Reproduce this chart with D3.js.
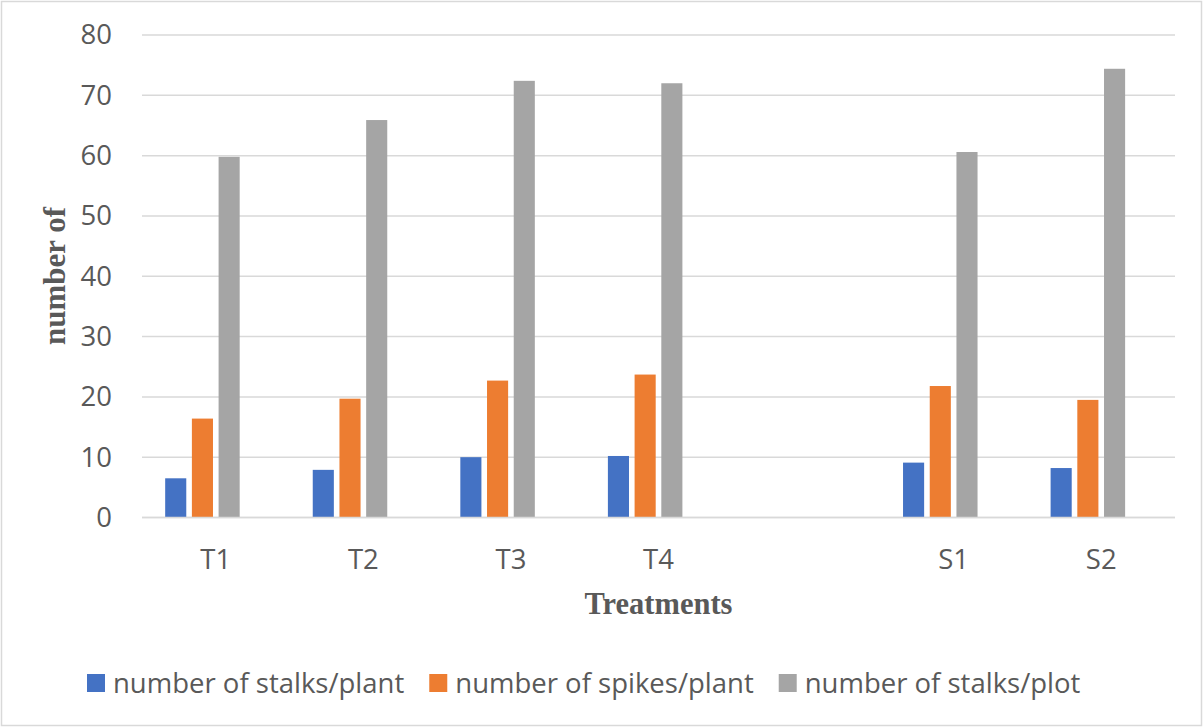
<!DOCTYPE html>
<html>
<head>
<meta charset="utf-8">
<script src="https://cdn.jsdelivr.net/npm/d3@7"></script>
<style>
  html, body { margin: 0; padding: 0; background: #fff; }
  svg { display: block; }
</style>
</head>
<body>
<svg id="chart" width="1203" height="727"></svg>
<script>
// ---- data ----
const categories = ["T1", "T2", "T3", "T4", "", "S1", "S2"];
const stalksPerPlant = [6.5, 7.9, 10.0, 10.2, null, 9.1, 8.2];
const spikesPerPlant = [16.4, 19.7, 22.7, 23.7, null, 21.8, 19.5];
const stalksPerPlot  = [59.8, 65.9, 72.4, 72.0, null, 60.6, 74.4];
const seriesNames = ["number of stalks/plant", "number of spikes/plant", "number of stalks/plot"];
const seriesColors = ["#4472C4", "#ED7D31", "#A5A5A5"];
const yTicks = [0, 10, 20, 30, 40, 50, 60, 70, 80];
const xTitle = "Treatments";
const yTitle = "number of";

const seriesValues = [stalksPerPlant, spikesPerPlant, stalksPerPlot];
// 4 slots per group (4th slot is empty in the source chart)
const slots = ["s0", "s1", "s2", "s3"];

// ---- layout ----
const W = 1203, H = 727;
const plot = { left: 142, right: 1175, top: 35, bottom: 517.5 };
const textColor = "#595959";
const gridColor = "#d9d9d9";
const sans = "'Open Sans', 'Noto Sans', sans-serif";
const serif = "'Liberation Serif', 'DejaVu Serif', serif";

const svg = d3.select("#chart");

// outer border
svg.append("rect")
  .attr("x", 1.5).attr("y", 1.5)
  .attr("width", W - 3).attr("height", H - 3)
  .attr("fill", "#fff").attr("stroke", gridColor).attr("stroke-width", 1.5);

const x0 = d3.scaleBand().domain(categories).range([plot.left, plot.right]).padding(0);
const x1 = d3.scaleBand().domain(slots).range([0, x0.bandwidth()])
  .paddingInner(0.21).paddingOuter(0.868);
const y = d3.scaleLinear().domain([0, 80]).range([plot.bottom, plot.top]);

// gridlines
svg.append("g").selectAll("line").data(yTicks).join("line")
  .attr("x1", plot.left).attr("x2", plot.right)
  .attr("y1", d => y(d)).attr("y2", d => y(d))
  .attr("stroke", gridColor).attr("stroke-width", 1.5);

// y axis labels
const yAxis = svg.append("g")
  .attr("transform", `translate(${plot.left},0)`)
  .call(d3.axisLeft(y).tickValues(yTicks).tickSize(0).tickPadding(30));
yAxis.select(".domain").remove();
yAxis.selectAll("text")
  .attr("fill", textColor).style("font-family", sans).style("font-size", "27.5px");

// bars
const barData = [];
categories.forEach((c, i) => {
  seriesValues.forEach((vals, s) => {
    if (vals[i] != null) barData.push({ cat: c, slot: slots[s], s, v: vals[i] });
  });
});
svg.append("g").selectAll("rect").data(barData).join("rect")
  .attr("x", d => x0(d.cat) + x1(d.slot))
  .attr("width", x1.bandwidth())
  .attr("y", d => y(d.v))
  .attr("height", d => y(0) - y(d.v))
  .attr("fill", d => seriesColors[d.s]);

// baseline
svg.append("line")
  .attr("x1", plot.left).attr("x2", plot.right)
  .attr("y1", y(0)).attr("y2", y(0))
  .attr("stroke", gridColor).attr("stroke-width", 1.5);

// x axis labels
const xAxis = svg.append("g")
  .attr("transform", `translate(0,${plot.bottom})`)
  .call(d3.axisBottom(x0).tickSize(0));
xAxis.select(".domain").remove();
xAxis.selectAll("text")
  .attr("y", 41.5).attr("dy", "0.35em")
  .attr("fill", textColor).style("font-family", sans).style("font-size", "27.5px");

// axis titles
svg.append("text")
  .attr("x", (plot.left + plot.right) / 2).attr("y", 614)
  .attr("text-anchor", "middle")
  .attr("fill", textColor).style("font-family", serif)
  .style("font-size", "30.5px").style("font-weight", "bold")
  .text(xTitle);

svg.append("text")
  .attr("transform", `translate(65,276) rotate(-90)`)
  .attr("text-anchor", "middle")
  .attr("fill", textColor).style("font-family", serif)
  .style("font-size", "31px").style("font-weight", "bold")
  .text(yTitle);

// legend
const legend = svg.append("g");
let lx = 87;
const ly = 683;
seriesNames.forEach((name, i) => {
  legend.append("rect")
    .attr("x", lx).attr("y", ly - 9)
    .attr("width", 18).attr("height", 18)
    .attr("fill", seriesColors[i]);
  const t = legend.append("text")
    .attr("x", lx + 26).attr("y", ly).attr("dy", "0.35em")
    .attr("fill", textColor).style("font-family", sans).style("font-size", "27.5px")
    .text(name);
  lx = lx + 26 + t.node().getComputedTextLength() + 25;
});
</script>
</body>
</html>
